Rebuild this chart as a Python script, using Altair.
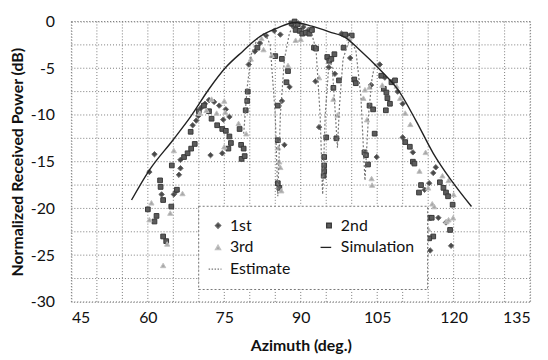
import altair as alt
import pandas as pd

# ---- data ----
series_names = ["1st", "3rd", "Estimate", "2nd", "Simulation"]

x1 = [61.3, 60.3, 62.7, 65.1, 65.5, 66.1, 66.4, 66.4, 68.8, 69.5, 69.9, 70.5, 71.2, 72.0, 73.0, 74.0,
      72.3, 74.6, 75.3, 76.0, 74.8, 79.8, 81.0, 82.0, 83.2, 84.8, 86.0, 86.3, 86.8, 87.8, 88.5, 89.5,
      90.5, 91.5, 92.9, 93.6, 95.5, 96.7, 98.0, 99.2, 99.7, 103.8, 104.9, 105.5, 106.5, 108.0, 109.0,
      110.0, 110.0, 112.0, 114.3, 115.2, 116.0, 116.5, 117.0, 115.4, 119.5, 118.5]
y1 = [-14.2, -16.1, -18.5, -18.5, -18.2, -16.4, -15.7, -14.8, -11.1, -10.6, -10.1, -9.2, -8.8, -8.4, -8.6, -9.0,
      -14.3, -14.1, -9.4, -10.2, -10.5, -4.6, -3.2, -2.3, -1.5, -1.0, -1.4, -8.5, -13.2, -7.0, -0.5, -0.2,
      -0.6, -0.9, -6.4, -11.3, -4.9, -5.6, -1.3, -1.5, -3.9, -6.8, -14.5, -4.6, -6.0, -6.5, -7.5,
      -8.8, -12.4, -14.0, -18.0, -17.3, -16.2, -15.6, -21.0, -24.5, -24.0, -21.5]

x2 = [60.0, 61.3, 61.7, 62.4, 62.5, 63.0, 63.0, 63.6, 64.6, 64.7, 65.7, 67.1, 67.8, 68.5, 69.2, 68.4,
      70.0, 71.0, 72.0, 72.5, 73.6, 74.6, 75.3, 76.0, 76.3, 75.8, 78.0, 78.3, 78.8, 78.4, 79.0, 79.2,
      79.5, 79.6, 81.5, 85.0, 86.3, 87.5, 87.2, 85.5, 85.5, 85.5, 85.8, 88.2, 88.8, 89.4, 89.0, 89.8,
      90.3, 91.0, 91.7, 92.2, 92.6, 93.0, 94.6, 94.6, 94.6, 94.5, 95.0, 97.0, 96.4, 95.2, 95.6, 96.0,
      96.6, 97.5, 98.4, 98.7, 100.0, 100.5, 100.8, 102.5, 102.8, 103.2, 103.5, 104.2, 104.5, 105.8,
      106.3, 106.8, 107.0, 107.5, 106.7, 107.8, 108.5, 110.5, 111.4, 112.0, 112.3, 113.2, 113.6, 117.3,
      118.0, 118.5, 118.9, 119.8, 115.2, 115.7, 116.0, 115.2, 119.3]
y2 = [-20.1, -21.4, -20.8, -17.0, -17.7, -19.1, -23.0, -23.5, -19.8, -15.4, -18.0, -14.5, -14.1, -13.6, -13.1, -11.8,
      -9.6, -9.0, -9.6, -10.4, -11.1, -11.5, -11.7, -12.3, -13.0, -13.6, -11.5, -13.2, -13.6, -14.7, -14.4, -9.5,
      -8.5, -7.5, -2.8, -3.7, -4.0, -5.3, -6.5, -9.0, -12.7, -17.3, -17.8, -0.2, 0.0, -0.3, -0.9, -1.0,
      -1.3, -1.2, -1.3, -0.9, -2.8, -2.9, -14.5, -15.4, -16.0, -16.5, -12.4, -12.5, -7.1, -3.8, -4.2, -4.0,
      -3.5, -6.3, -2.8, -1.4, -1.5, -6.2, -6.6, -14.0, -14.3, -15.3, -9.0, -9.4, -12.0, -5.8,
      -7.2, -7.6, -8.2, -8.8, -9.5, -6.5, -6.3, -12.9, -13.4, -15.0, -15.2, -18.3, -17.5, -17.2,
      -17.8, -18.3, -18.7, -19.6, -21.0, -21.0, -23.0, -23.2, -22.3]

x3 = [60.7, 60.3, 63.0, 63.8, 64.4, 65.1, 66.8, 70.2, 71.5, 72.5, 73.5, 75.0, 75.0, 75.2, 77.8, 79.3,
      80.2, 82.3, 82.7, 84.3, 85.8, 86.0, 86.2, 85.6, 87.5, 90.0, 89.0, 93.6, 96.4, 97.2, 99.5, 102.3,
      102.6, 103.5, 103.0, 103.9, 104.0, 106.0, 108.8, 109.5, 110.5, 111.5, 113.3, 115.0, 115.8, 116.2,
      117.8, 119.0, 118.6, 119.0, 119.9, 115.0, 114.5, 120.0]
y3 = [-19.4, -21.2, -26.1, -23.8, -20.5, -13.8, -18.4, -9.8, -9.5, -8.3, -9.8, -13.4, -8.5, -9.7, -10.9, -12.0,
      -4.0, -1.8, -3.0, -3.6, -15.0, -15.6, -18.1, -13.5, -4.7, -1.9, -2.0, -6.0, -8.3, -10.0, -1.8, -8.2,
      -7.3, -7.0, -10.5, -16.8, -17.5, -6.8, -6.9, -8.2, -9.8, -11.0, -16.0, -17.8, -19.5, -19.8,
      -16.5, -17.0, -21.4, -21.2, -21.0, -22.2, -14.0, -18.5]

sim_x = [56.8, 60.3, 64.9, 68.5, 71.9, 75.3, 78.6, 82.0, 85.4, 88.8, 92.2, 95.6, 99.0, 101.1,
         105.8, 109.2, 112.6, 116.0, 119.4, 123.5]
sim_y = [-19.1, -15.9, -12.7, -10.1, -7.3, -4.9, -3.2, -1.6, -0.7, -0.1, -0.5, -1.1, -1.8, -2.8,
         -5.3, -7.4, -10.6, -14.1, -16.9, -19.8]

est_x = [78.8, 79.5, 80.3, 81.5, 83.0, 84.0, 85.0, 85.5, 86.0, 86.8, 87.8, 89.0, 90.5, 92.0, 93.0,
         93.8, 94.3, 94.8, 95.6, 96.2, 96.8, 97.2, 97.6, 98.3, 99.5, 100.8, 101.8, 102.6, 103.3, 104.0, 104.6]
est_y = [-12.0, -7.0, -3.5, -1.8, -1.2, -2.5, -10.0, -18.7, -10.0, -4.0, -1.2, -0.2, -0.3, -1.0, -3.0,
         -10.0, -18.5, -10.0, -4.0, -5.0, -10.0, -13.5, -9.0, -4.0, -2.0, -3.0, -8.0, -17.0, -10.0, -6.0, -4.5]

grid_x = list(range(45, 136, 5))            # vertical grid lines
label_x = list(range(45, 136, 15))          # x tick labels
grid_y = [v / 2 for v in range(-60, 1, 5)]  # horizontal grid lines
label_y = list(range(-30, 1, 5))            # y tick labels

# ---- tables ----
pts = pd.DataFrame(
    {"az": x1 + x2 + x3,
     "pw": y1 + y2 + y3,
     "series": ["1st"] * len(x1) + ["2nd"] * len(x2) + ["3rd"] * len(x3)}
)
sim = pd.DataFrame({"az": sim_x, "pw": sim_y})
est = pd.DataFrame({"az": est_x, "pw": est_y})
gx = pd.DataFrame({"az": grid_x})
gy = pd.DataFrame({"pw": grid_y})

FONT = "Lato"
GRID = "#7a7a7a"
x_scale = alt.Scale(domain=[45, 135], nice=False)
y_scale = alt.Scale(domain=[-30, 0], nice=False)

x_axis = alt.Axis(
    title="Azimuth (deg.)", values=label_x, grid=False,
    labelOverlap=False, labelPadding=8, titlePadding=12, ticks=False, domain=False,
)
y_axis = alt.Axis(
    title="Normalized Received Power (dB)", values=label_y, grid=False,
    labelExpr="'' + datum.value",
    labelOverlap=False, labelPadding=17, titlePadding=5, ticks=False, domain=False,
)
X = alt.X("az:Q", scale=x_scale, axis=x_axis)
Y = alt.Y("pw:Q", scale=y_scale, axis=y_axis)

style = {
    "1st": ("diamond", "#4a4a4a", "#6a6a6a", 30),
    "2nd": ("square", "#5c5c5c", "#3a3a3a", 45),
    "3rd": ("triangle-up", "#a8a8a8", "#c0c0c0", 20),
    "Simulation": ("M-3.8,0L1,0", "#222222", "#222222", 420),
    "Estimate": ("M-3.8,0L-3.2,0M-2.6,0L-2,0M-1.4,0L-0.8,0M-0.2,0L0.4,0M1,0L1.4,0",
                 "#777777", "#777777", 420),
}
shape_range = [style[s][0] for s in series_names]
fill_range = [style[s][1] for s in series_names]
stroke_range = [style[s][2] for s in series_names]
size_range = [style[s][3] for s in series_names]

legend = alt.Legend(
    title=None, orient="none", legendX=128, legendY=186, columns=2,
    fillColor="white", strokeColor="#777777",
    padding=12, columnPadding=26, rowPadding=6,
    labelFontSize=16, labelFont=FONT, labelColor="#111111",
    symbolStrokeWidth=1.3, labelOffset=4,
)

vgrid = alt.Chart(gx).mark_rule(color=GRID, strokeDash=[1, 2], strokeWidth=1).encode(x=X)
hgrid = alt.Chart(gy).mark_rule(color=GRID, strokeDash=[1, 2], strokeWidth=1).encode(y=Y)

points = alt.Chart(pts).mark_point(filled=True, strokeWidth=1, opacity=1).encode(
    x=X, y=Y,
    shape=alt.Shape("series:N", scale=alt.Scale(domain=series_names, range=shape_range), legend=legend),
    color=alt.Color("series:N", scale=alt.Scale(domain=series_names, range=fill_range), legend=legend),
    stroke=alt.Stroke("series:N", scale=alt.Scale(domain=series_names, range=stroke_range), legend=legend),
    size=alt.Size("series:N", scale=alt.Scale(domain=series_names, range=size_range), legend=legend),
)

sim_line = alt.Chart(sim).mark_line(color="#222222", strokeWidth=1.4, interpolate="monotone").encode(x=X, y=Y)
est_line = alt.Chart(est).mark_line(color="#777777", strokeWidth=1.2, strokeDash=[2, 2]).encode(x=X, y=Y)

chart = (
    alt.layer(vgrid, hgrid, points, est_line, sim_line)
    .properties(
        width=463, height=283,
        autosize=alt.AutoSizeParams(type="none"),
        padding={"left": 64, "top": 12, "right": 10, "bottom": 55},
        background="white",
    )
    .configure_view(stroke="#888888", strokeDash=[1, 2], strokeWidth=1)
    .configure_legend(strokeDash=[2, 2])
    .configure_axis(
        labelFont=FONT, labelFontSize=16, labelColor="#111111",
        titleFont=FONT, titleFontSize=16, titleFontWeight="bold", titleColor="#111111",
    )
)

chart.save("out.html", embed_options={"renderer": "svg", "actions": False})
